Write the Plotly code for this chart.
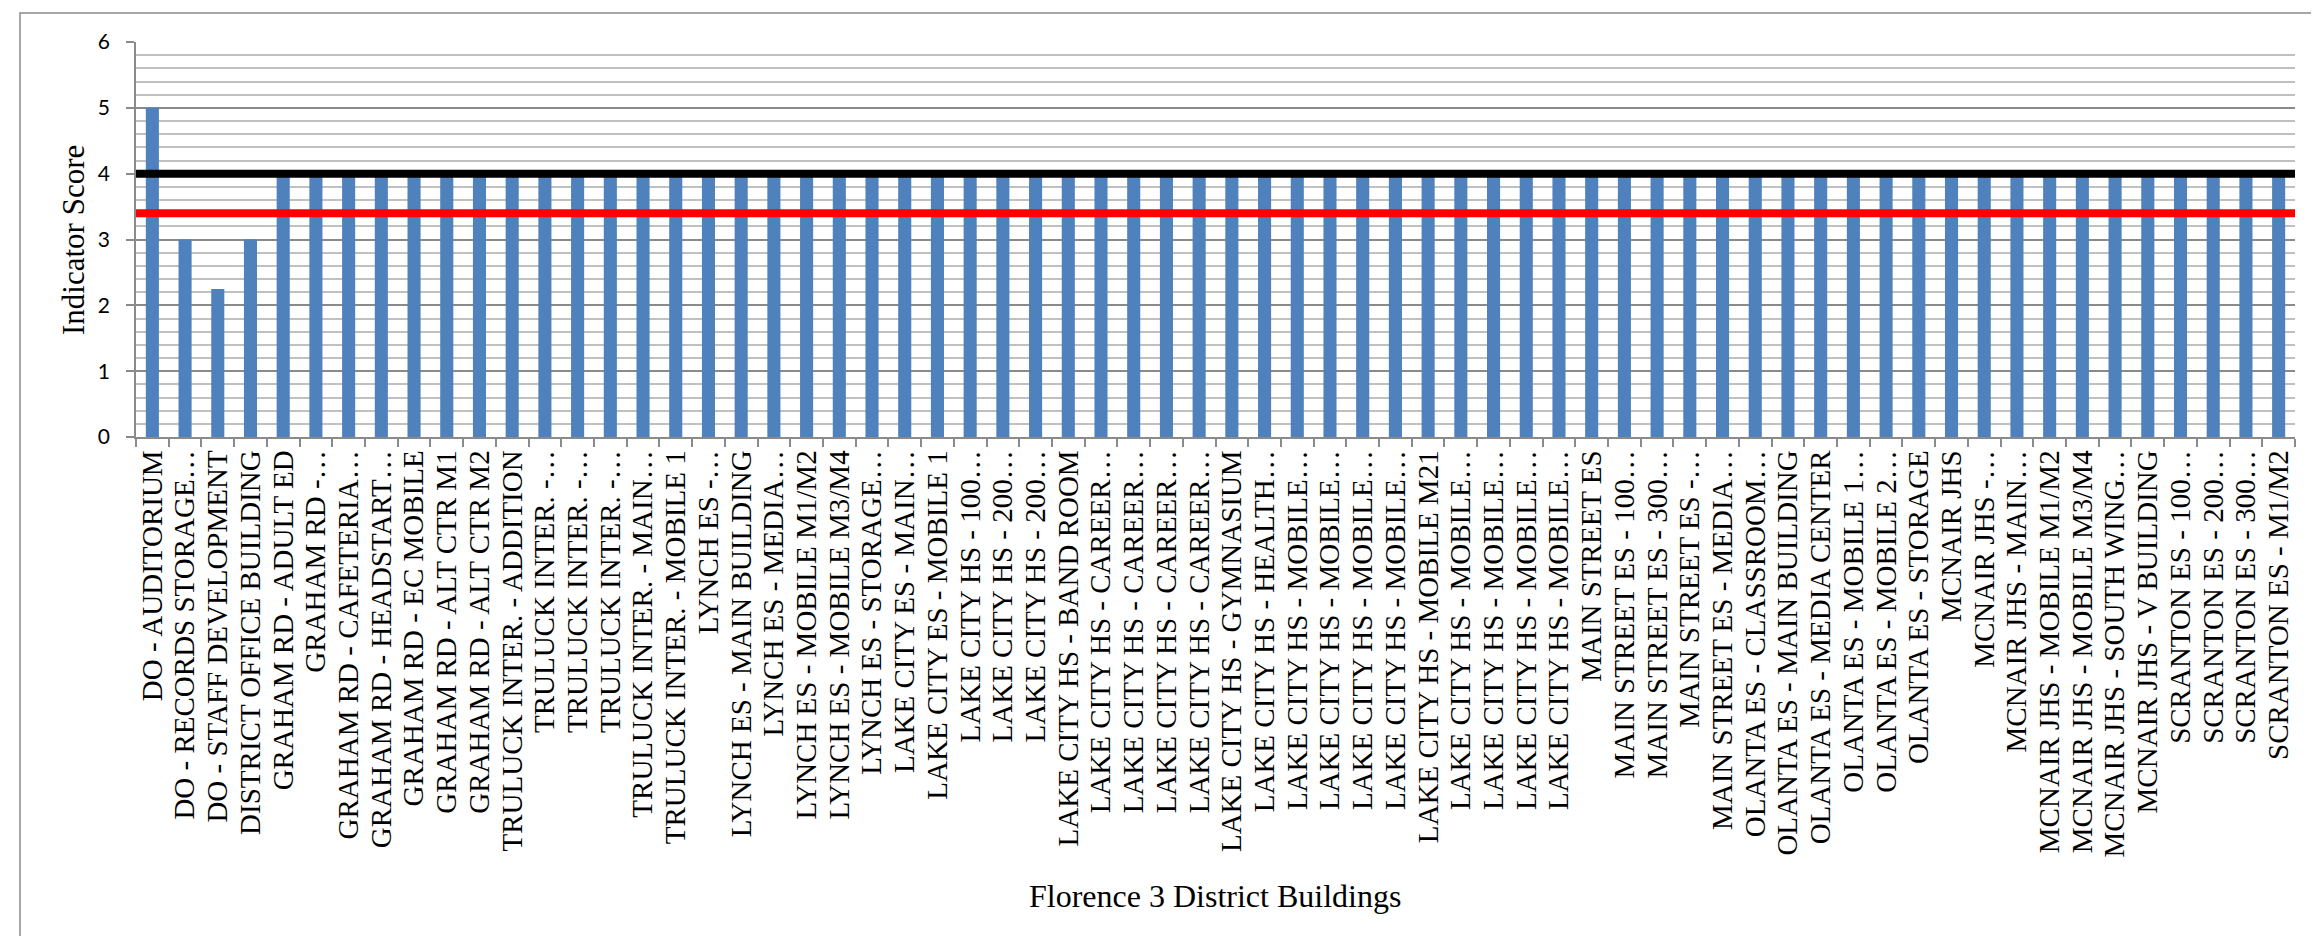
import plotly.graph_objects as go

# ---- data ----
building_labels = [
    "DO - AUDITORIUM",
    "DO - RECORDS STORAGE…",
    "DO - STAFF DEVELOPMENT",
    "DISTRICT OFFICE BUILDING",
    "GRAHAM RD - ADULT ED",
    "GRAHAM RD -…",
    "GRAHAM RD - CAFETERIA…",
    "GRAHAM RD - HEADSTART…",
    "GRAHAM RD - EC MOBILE",
    "GRAHAM RD - ALT CTR M1",
    "GRAHAM RD - ALT CTR M2",
    "TRULUCK INTER. - ADDITION",
    "TRULUCK INTER. -…",
    "TRULUCK INTER. -…",
    "TRULUCK INTER. -…",
    "TRULUCK INTER. - MAIN…",
    "TRULUCK INTER. - MOBILE 1",
    "LYNCH ES -…",
    "LYNCH ES - MAIN BUILDING",
    "LYNCH ES - MEDIA…",
    "LYNCH ES - MOBILE M1/M2",
    "LYNCH ES - MOBILE M3/M4",
    "LYNCH ES - STORAGE…",
    "LAKE CITY ES - MAIN…",
    "LAKE CITY ES - MOBILE 1",
    "LAKE CITY HS - 100…",
    "LAKE CITY HS - 200…",
    "LAKE CITY HS - 200…",
    "LAKE CITY HS - BAND ROOM",
    "LAKE CITY HS - CAREER…",
    "LAKE CITY HS - CAREER…",
    "LAKE CITY HS - CAREER…",
    "LAKE CITY HS - CAREER…",
    "LAKE CITY HS - GYMNASIUM",
    "LAKE CITY HS - HEALTH…",
    "LAKE CITY HS - MOBILE…",
    "LAKE CITY HS - MOBILE…",
    "LAKE CITY HS - MOBILE…",
    "LAKE CITY HS - MOBILE…",
    "LAKE CITY HS - MOBILE M21",
    "LAKE CITY HS - MOBILE…",
    "LAKE CITY HS - MOBILE…",
    "LAKE CITY HS - MOBILE…",
    "LAKE CITY HS - MOBILE…",
    "MAIN STREET ES",
    "MAIN STREET ES - 100…",
    "MAIN STREET ES - 300…",
    "MAIN STREET ES -…",
    "MAIN STREET ES - MEDIA…",
    "OLANTA ES - CLASSROOM…",
    "OLANTA ES - MAIN BUILDING",
    "OLANTA ES - MEDIA CENTER",
    "OLANTA ES - MOBILE 1…",
    "OLANTA ES - MOBILE 2…",
    "OLANTA ES - STORAGE",
    "MCNAIR JHS",
    "MCNAIR JHS -…",
    "MCNAIR JHS - MAIN…",
    "MCNAIR JHS - MOBILE M1/M2",
    "MCNAIR JHS - MOBILE M3/M4",
    "MCNAIR JHS - SOUTH WING…",
    "MCNAIR JHS - V BUILDING",
    "SCRANTON ES - 100…",
    "SCRANTON ES - 200…",
    "SCRANTON ES - 300…",
    "SCRANTON ES - M1/M2",
]

indicator_scores = [
    5, 3, 2.25, 3,
    4, 4, 4, 4, 4, 4, 4,
    4, 4, 4, 4, 4, 4,
    4, 4, 4, 4, 4, 4,
    4, 4,
    4, 4, 4, 4, 4, 4, 4, 4, 4, 4,
    4, 4, 4, 4, 4, 4, 4, 4, 4,
    4, 4, 4, 4, 4,
    4, 4, 4, 4, 4, 4,
    4, 4, 4, 4, 4, 4, 4,
    4, 4, 4, 4,
]

target_line = 4.0      # black reference line
district_line = 3.4    # red reference line

y_ticks = [0, 1, 2, 3, 4, 5, 6]

# unique category keys (labels repeat)
bar_keys = ["k%02d" % i for i in range(len(building_labels))]

# ---- figure ----
W, H = 2319, 936
L, R, T, B = 128, 32, 34, 507
pw = W - L - R
ph = H - T - B

GRID_MAJOR = "#8a8a8a"
GRID_MINOR = "#c0c0c0"
SERIF = "Liberation Serif, Times New Roman, serif"

fig = go.Figure()
fig.add_trace(go.Bar(
    x=bar_keys,
    y=indicator_scores,
    marker=dict(color="#4F81BD", line=dict(width=0)),
    showlegend=False,
))

fig.add_hline(y=target_line, line=dict(color="#000000", width=8), layer="above")
fig.add_hline(y=district_line, line=dict(color="#FF0000", width=8), layer="above")

fig.update_layout(
    width=W, height=H,
    margin=dict(l=L, r=R, t=T, b=B, autoexpand=False),
    paper_bgcolor="white",
    plot_bgcolor="white",
    bargap=0.6,
    showlegend=False,
)

fig.update_xaxes(
    type="category",
    tickmode="array",
    tickvals=bar_keys,
    ticktext=building_labels,
    tickangle=-90,
    tickson="boundaries",
    ticks="outside",
    ticklen=8,
    tickcolor=GRID_MAJOR,
    tickwidth=1.5,
    showline=True,
    linecolor=GRID_MAJOR,
    linewidth=1.5,
    showgrid=False,
    tickfont=dict(family=SERIF, size=29, color="black"),
    automargin=False,
)

fig.update_yaxes(
    range=[0, 6],
    tickmode="array",
    tickvals=y_ticks,
    ticks="outside",
    ticklen=8,
    tickcolor=GRID_MAJOR,
    tickwidth=1.5,
    showline=True,
    linecolor=GRID_MAJOR,
    linewidth=1.5,
    showgrid=True,
    gridcolor=GRID_MAJOR,
    gridwidth=1.5,
    minor=dict(dtick=0.2, showgrid=True, gridcolor=GRID_MINOR, gridwidth=1.5, ticks=""),
    zeroline=False,
    tickfont=dict(family="Lato, Liberation Sans, sans-serif", size=21, color="black"),
    ticklabelstandoff=12,
    automargin=False,
)

def px_x(px):
    return (px - L) / pw

def px_y(py):
    return (H - B - py) / ph

fig.add_annotation(
    text="Indicator Score", textangle=-90,
    xref="paper", yref="paper", x=px_x(65), y=px_y(232),
    xanchor="center", yanchor="middle", showarrow=False,
    font=dict(family=SERIF, size=31, color="black"),
)
fig.add_annotation(
    text="Florence 3 District Buildings",
    xref="paper", yref="paper", x=px_x(1207), y=px_y(888),
    xanchor="center", yanchor="middle", showarrow=False,
    font=dict(family=SERIF, size=32, color="black"),
)

# outer chart border
fig.add_shape(
    type="rect", xref="paper", yref="paper",
    x0=px_x(12), x1=px_x(2316), y0=px_y(932), y1=px_y(5),
    line=dict(color=GRID_MAJOR, width=1.5), fillcolor="rgba(0,0,0,0)", layer="below",
)

fig.write_html("out.html")
